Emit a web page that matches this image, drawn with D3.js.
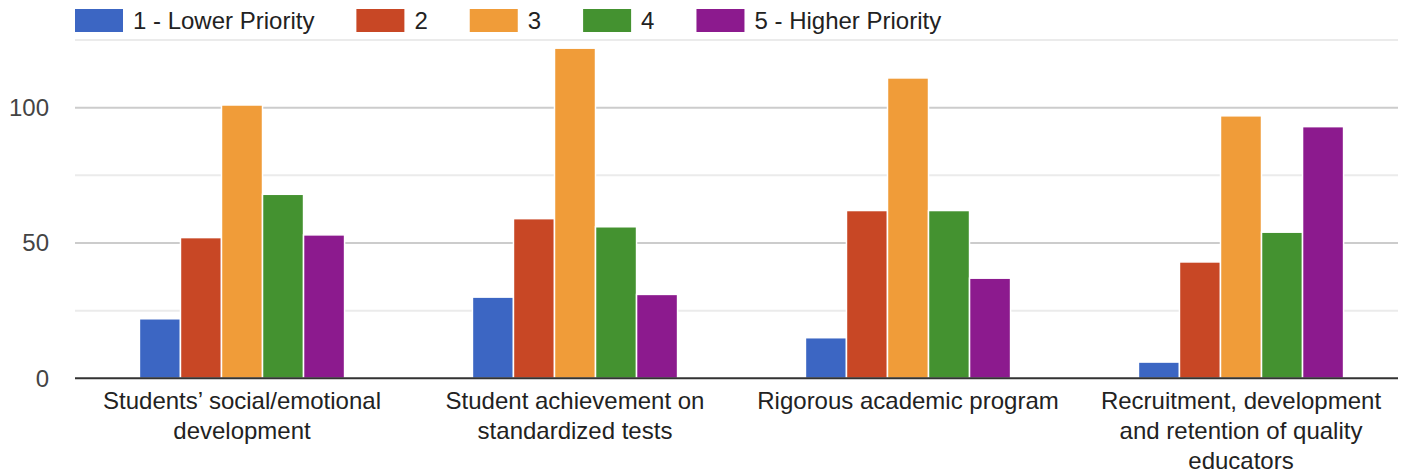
<!DOCTYPE html>
<html>
<head>
<meta charset="utf-8">
<script src="https://cdn.jsdelivr.net/npm/d3@7"></script>
<style>
  body { margin: 0; background: #fff; }
  svg { display: block; font-family: "Liberation Sans", Arial, sans-serif; }
</style>
</head>
<body>
<svg id="chart" width="1407" height="474"></svg>
<script>
const categories = [
  "Students\u2019 social/emotional development",
  "Student achievement on standardized tests",
  "Rigorous academic program",
  "Recruitment, development and retention of quality educators"
];

const seriesNames = ["1 - Lower Priority", "2", "3", "4", "5 - Higher Priority"];
const seriesColors = ["#3c66c3", "#c84725", "#f09c39", "#449230", "#8c1a8e"];

// one array per priority level, values per category
const lowerPriority = [22, 30, 15, 6];
const priority2 = [52, 59, 62, 43];
const priority3 = [101, 122, 111, 97];
const priority4 = [68, 56, 62, 54];
const higherPriority = [53, 31, 37, 93];

const yTicks = [0, 50, 100];
const gridTicks = [0, 25, 50, 75, 100, 125];

const width = 1407;
const height = 474;
const plotLeft = 75.5;
const plotRight = 1407.5;
const gridRight = 1398;
const baseline = 378.3;
const fontSize = "24px";

const seriesValues = [lowerPriority, priority2, priority3, priority4, higherPriority];

const data = categories.map((c, i) => ({
  category: c,
  values: seriesNames.map((s, j) => ({ key: s, value: seriesValues[j][i], color: seriesColors[j] }))
}));

const svg = d3.select("#chart");

const x0 = d3.scaleBand()
  .domain(categories)
  .range([plotLeft, plotRight])
  .paddingInner(0.384)
  .paddingOuter(0.192);

const x1 = d3.scaleBand()
  .domain(seriesNames)
  .range([0, x0.bandwidth()])
  .padding(0);

const y = d3.scaleLinear()
  .domain([0, 125])
  .range([baseline, 40.05]);

// gridlines
svg.append("g")
  .selectAll("line")
  .data(gridTicks.filter((d) => d > 0))
  .join("line")
  .attr("x1", plotLeft - 0.5)
  .attr("x2", gridRight)
  .attr("y1", (d) => y(d))
  .attr("y2", (d) => y(d))
  .attr("stroke", (d) => (d % 50 === 0 ? "#cccccc" : "#ebebeb"))
  .attr("stroke-width", 2);

// y labels
svg.append("g")
  .selectAll("text")
  .data(yTicks)
  .join("text")
  .attr("x", 49)
  .attr("y", (d) => y(d))
  .attr("dy", "0.35em")
  .attr("text-anchor", "end")
  .attr("fill", "#444")
  .style("font-size", fontSize)
  .text((d) => d);

// bars
svg.append("g")
  .selectAll("g")
  .data(data)
  .join("g")
  .attr("transform", (d) => `translate(${x0(d.category)},0)`)
  .selectAll("rect")
  .data((d) => d.values)
  .join("rect")
  .attr("x", (d) => x1(d.key))
  .attr("y", (d) => y(d.value))
  .attr("width", x1.bandwidth())
  .attr("height", (d) => baseline - y(d.value))
  .attr("fill", (d) => d.color)
  .attr("stroke", "#fff")
  .attr("stroke-width", 1.5);

// baseline
svg.append("line")
  .attr("x1", plotLeft - 0.5)
  .attr("x2", gridRight)
  .attr("y1", baseline)
  .attr("y2", baseline)
  .attr("stroke", "#333")
  .attr("stroke-width", 2);

// x labels, wrapped
function wrapWords(text, maxWidth) {
  const words = text.split(" ");
  const measure = svg.append("text").style("font-size", fontSize);
  const lines = [];
  let line = [];
  for (const w of words) {
    line.push(w);
    measure.text(line.join(" "));
    if (measure.node().getComputedTextLength() > maxWidth && line.length > 1) {
      line.pop();
      lines.push(line.join(" "));
      line = [w];
    }
  }
  lines.push(line.join(" "));
  measure.remove();
  return lines;
}

const xLabels = svg.append("g")
  .selectAll("text")
  .data(categories)
  .join("text")
  .attr("text-anchor", "middle")
  .attr("fill", "#222")
  .style("font-size", fontSize)
  .attr("transform", (d) => `translate(${x0(d) + x0.bandwidth() / 2},409)`);

xLabels.each(function (d) {
  const lines = wrapWords(d, 316);
  d3.select(this)
    .selectAll("tspan")
    .data(lines)
    .join("tspan")
    .attr("x", 0)
    .attr("y", (l, i) => i * 30)
    .text((l) => l);
});

// legend
const legend = svg.append("g");
let lx = 75;
seriesNames.forEach((name, i) => {
  legend.append("rect")
    .attr("x", lx)
    .attr("y", 9)
    .attr("width", 48)
    .attr("height", 23)
    .attr("fill", seriesColors[i]);
  const t = legend.append("text")
    .attr("x", lx + 58)
    .attr("y", 20.5)
    .attr("dy", "0.35em")
    .attr("fill", "#222")
    .style("font-size", fontSize)
    .text(name);
  lx += 58 + t.node().getComputedTextLength() + 42;
});
</script>
</body>
</html>
